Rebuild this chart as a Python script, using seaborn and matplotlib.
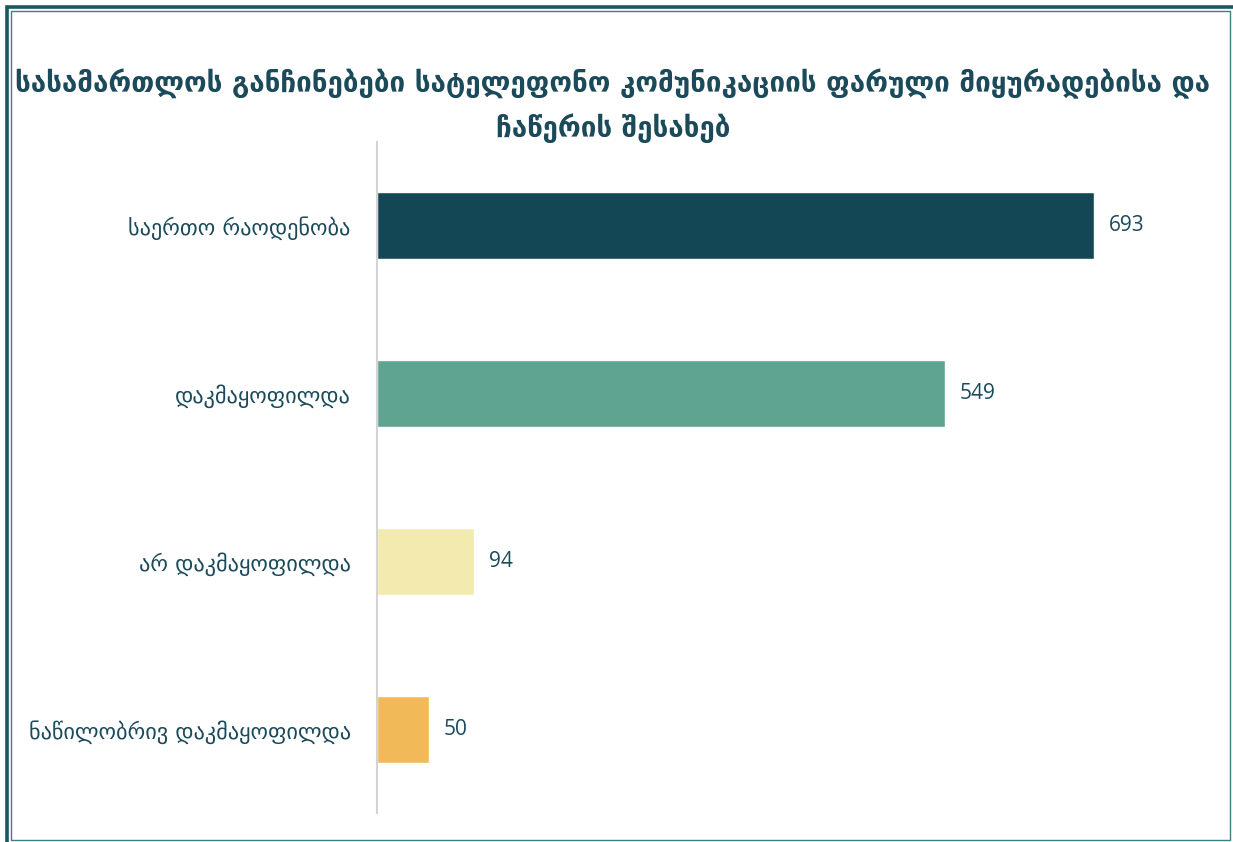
import matplotlib
matplotlib.use("Agg")
import matplotlib.pyplot as plt
from matplotlib.patches import Rectangle
import seaborn as sns
import pandas as pd

categories = [
    "საერთო რაოდენობა",
    "დაკმაყოფილდა",
    "არ დაკმაყოფილდა",
    "ნაწილობრივ დაკმაყოფილდა",
]
values = [693, 549, 94, 50]
bar_colors = ["#134756", "#5fa490", "#f3eab0", "#f2b958"]
title = "სასამართლოს განჩინებები სატელეფონო კომუნიკაციის ფარული მიყურადებისა და\nჩაწერის შესახებ"

sns.set_theme(style="white")
plt.rcParams["font.family"] = ["Open Sans", "DejaVu Sans"]

text_color = "#1b4a5a"
frame_color = "#1d5560"

df = pd.DataFrame({"category": categories, "value": values})

fig = plt.figure(figsize=(12.33, 8.42), dpi=100)
W, H = 1233, 842
ax = fig.add_axes([377 / W, 1 - 813 / H, (1190 - 377) / W, (813 - 142) / H])

sns.barplot(data=df, x="value", y="category", hue="category",
            palette=bar_colors, orient="h", width=0.40, legend=False,
            saturation=1, ax=ax)

ax.set_xlim(0, 813 / (717 / 693))
ax.set_ylim(3.5, -0.5)
ax.set_xlabel("")
ax.set_ylabel("")
ax.set_xticks([])
for s in ["top", "right", "bottom"]:
    ax.spines[s].set_visible(False)
ax.spines["left"].set_color("#d4d4d4")
ax.spines["left"].set_linewidth(1.5)
ax.tick_params(axis="y", length=0, pad=19)
for lbl in ax.get_yticklabels():
    lbl.set_fontsize(16)
    lbl.set_color(text_color)
    lbl.set_family(["DejaVu Sans"])

for i, v in enumerate(values):
    ax.text(v + 14, i, f"{v}", va="center", ha="left", fontsize=15,
            color=text_color)

fig.text(0.497, 1 - 106 / H, title, ha="center", va="center",
         fontsize=20, fontweight="bold", color=text_color,
         family=["DejaVu Sans"], linespacing=1.6)

# double frame around the figure: thick outer line, thin inner line
fig.patches.append(Rectangle((6.5 / W, 1 - 860 / H), (1260 - 6.5) / W, (860 - 6.5) / H,
                             transform=fig.transFigure, fill=False,
                             edgecolor=frame_color, linewidth=2.6))
fig.patches.append(Rectangle((10.5 / W, 1 - 840 / H), (1229.5 - 10.5) / W, (840 - 10.5) / H,
                             transform=fig.transFigure, fill=False,
                             edgecolor="#3f7c84", linewidth=1.0))

fig.savefig("out.png", dpi=100)
